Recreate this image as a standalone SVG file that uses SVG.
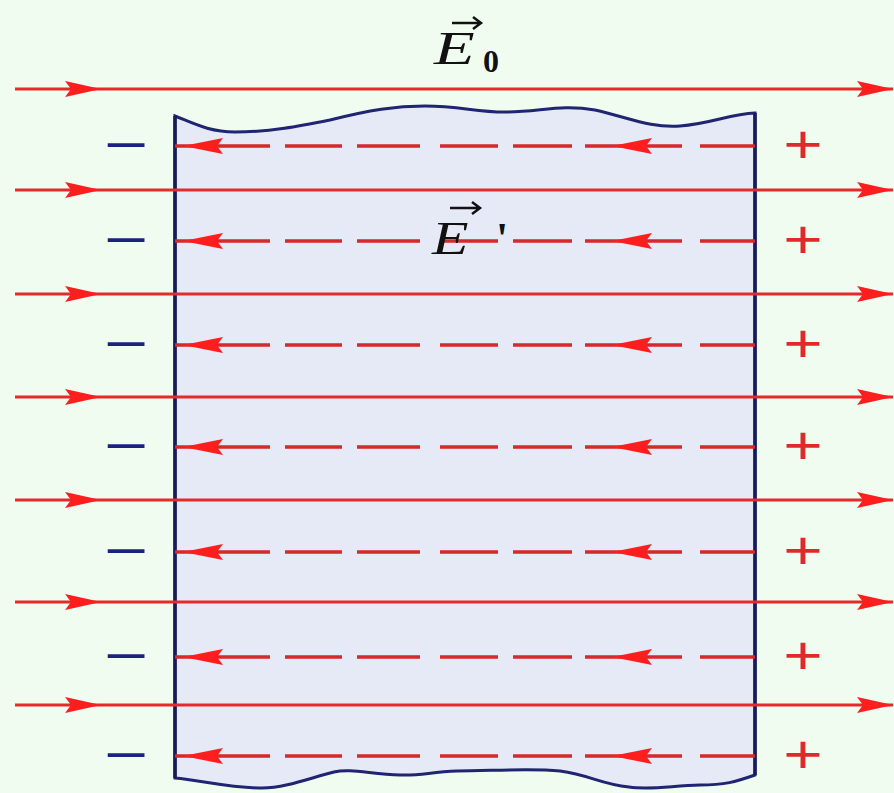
<svg xmlns="http://www.w3.org/2000/svg" width="894" height="793" viewBox="0 0 894 793">
<defs>
<style>
.solid{stroke:#e32b2b;stroke-width:3;fill:none}
.dash{stroke:#d42a2a;stroke-width:3.5;fill:none;stroke-dasharray:95 15 57 15 63 20 58 15 59 13 97 18 55}
.head{fill:#ff1e1e}
.minus{font-family:"Liberation Sans",Arial,sans-serif;font-size:54px;fill:#1a237e;text-anchor:middle}
.plus{font-family:"Liberation Sans",Arial,sans-serif;font-size:54px;fill:#e02a2a;text-anchor:middle}
.sym{font-family:"Liberation Serif","Times New Roman",serif;fill:#111}
.vec{stroke:#111;stroke-width:2.5;fill:none}
</style>
<path id="rh" d="M0,0 L-36,-8 L-30,0 L-36,8 Z"/>
<path id="lh" d="M0,0 L40,-8 L34,0 L40,8 Z"/>
</defs>
<rect width="894" height="793" fill="#f0fcf0"/>
<g id="slab">
<path d="M175,116 C195,124 210,132 235,132 C270,132 300,126 330,120 C370,110 395,106 425,106 C460,106 475,112 505,112 C540,112 560,104 595,110 C630,118 650,128 680,126 C710,124 730,114 755,113 L755,775 C735,782 725,785 700,785 C670,786 650,790 629,787 C600,784 590,775 560,771 C530,768 490,771 457,771 C430,772 420,776 400,775 C370,774 350,768 334,772 C310,778 285,788 262,788 C230,788 200,780 175,778 Z" fill="#e6eaf7" stroke="#1f2570" stroke-width="3"/>
<line x1="175" y1="116" x2="175" y2="778" stroke="#151b5e" stroke-width="3.5"/>
<line x1="755" y1="113" x2="755" y2="775" stroke="#151b5e" stroke-width="3.5"/>
</g>
<g id="connectors">
<g id="field-E0">
<line class="solid" x1="15" y1="89" x2="893" y2="89"/>
<line class="solid" x1="15" y1="190" x2="893" y2="190"/>
<line class="solid" x1="15" y1="294" x2="893" y2="294"/>
<line class="solid" x1="15" y1="397" x2="893" y2="397"/>
<line class="solid" x1="15" y1="500" x2="893" y2="500"/>
<line class="solid" x1="15" y1="602" x2="893" y2="602"/>
<line class="solid" x1="15" y1="705" x2="893" y2="705"/>
<use href="#rh" class="head" x="101" y="89"/><use href="#rh" class="head" x="893" y="89"/>
<use href="#rh" class="head" x="101" y="190"/><use href="#rh" class="head" x="893" y="190"/>
<use href="#rh" class="head" x="101" y="294"/><use href="#rh" class="head" x="893" y="294"/>
<use href="#rh" class="head" x="101" y="397"/><use href="#rh" class="head" x="893" y="397"/>
<use href="#rh" class="head" x="101" y="500"/><use href="#rh" class="head" x="893" y="500"/>
<use href="#rh" class="head" x="101" y="602"/><use href="#rh" class="head" x="893" y="602"/>
<use href="#rh" class="head" x="101" y="705"/><use href="#rh" class="head" x="893" y="705"/>
</g>
<g id="field-E1">
<line class="dash" x1="175" y1="146" x2="755" y2="146"/>
<line class="dash" x1="175" y1="241" x2="755" y2="241"/>
<line class="dash" x1="175" y1="345" x2="755" y2="345"/>
<line class="dash" x1="175" y1="447" x2="755" y2="447"/>
<line class="dash" x1="175" y1="552" x2="755" y2="552"/>
<line class="dash" x1="175" y1="657" x2="755" y2="657"/>
<line class="dash" x1="175" y1="756" x2="755" y2="756"/>
<use href="#lh" class="head" x="183" y="146"/><use href="#lh" class="head" x="612" y="146"/>
<use href="#lh" class="head" x="183" y="241"/><use href="#lh" class="head" x="612" y="241"/>
<use href="#lh" class="head" x="183" y="345"/><use href="#lh" class="head" x="612" y="345"/>
<use href="#lh" class="head" x="183" y="447"/><use href="#lh" class="head" x="612" y="447"/>
<use href="#lh" class="head" x="183" y="552"/><use href="#lh" class="head" x="612" y="552"/>
<use href="#lh" class="head" x="183" y="657"/><use href="#lh" class="head" x="612" y="657"/>
<use href="#lh" class="head" x="183" y="756"/><use href="#lh" class="head" x="612" y="756"/>
</g>
</g>
<g id="charges-minus">
<text class="minus" transform="translate(126,162.5) scale(1.4,1)">−</text>
<text class="minus" transform="translate(126,257.5) scale(1.4,1)">−</text>
<text class="minus" transform="translate(126,361.5) scale(1.4,1)">−</text>
<text class="minus" transform="translate(126,463.5) scale(1.4,1)">−</text>
<text class="minus" transform="translate(126,568.5) scale(1.4,1)">−</text>
<text class="minus" transform="translate(126,673.5) scale(1.4,1)">−</text>
<text class="minus" transform="translate(126,772.5) scale(1.4,1)">−</text>
</g>
<g id="charges-plus">
<text class="plus" transform="translate(803,162.5) scale(1.25,1)">+</text>
<text class="plus" transform="translate(803,257.5) scale(1.25,1)">+</text>
<text class="plus" transform="translate(803,361.5) scale(1.25,1)">+</text>
<text class="plus" transform="translate(803,463.5) scale(1.25,1)">+</text>
<text class="plus" transform="translate(803,568.5) scale(1.25,1)">+</text>
<text class="plus" transform="translate(803,673.5) scale(1.25,1)">+</text>
<text class="plus" transform="translate(803,772.5) scale(1.25,1)">+</text>
</g>
<g id="label-E0">
<path class="vec" d="M452,23 L480,23 M473,17 L481,23 L473,29"/>
<text class="sym" transform="translate(434,64) scale(1.45,1)" font-size="46" font-style="italic">E</text>
<text class="sym" x="483" y="72" font-size="32" font-weight="bold">0</text>
</g>
<g id="label-E1">
<path class="vec" d="M450,208 L479,208 M472,202 L480,208 L472,214"/>
<text class="sym" transform="translate(432,254) scale(1.3,1)" font-size="46" font-style="italic">E</text>
<text class="sym" x="496" y="253" font-size="44" font-weight="bold">'</text>
</g>
</svg>
